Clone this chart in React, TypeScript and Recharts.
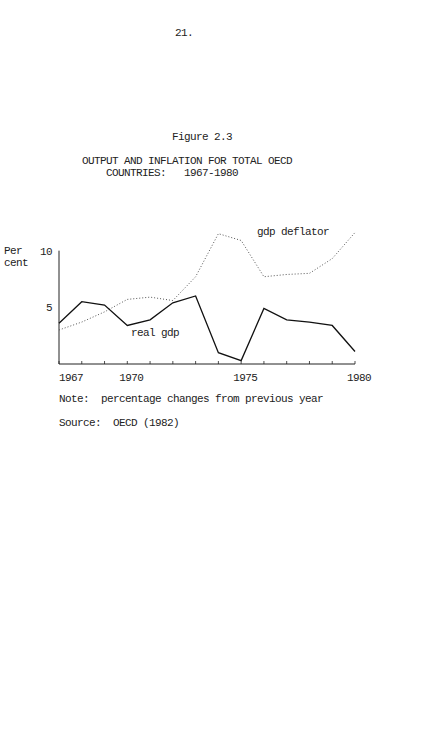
import { LineChart, Line, XAxis, YAxis, ReferenceLine } from "recharts";

const years = [1967, 1968, 1969, 1970, 1971, 1972, 1973, 1974, 1975, 1976, 1977, 1978, 1979, 1980];
const realGdp = [3.6, 5.5, 5.2, 3.4, 3.9, 5.4, 6.0, 1.0, 0.3, 4.9, 3.9, 3.7, 3.4, 1.1];
const deflator = [3.0, 3.7, 4.6, 5.7, 5.9, 5.6, 7.7, 11.5, 10.9, 7.7, 7.9, 8.0, 9.3, 11.6];
const yearLabels = [1967, 1970, 1975, 1980];
const yTicks = [5, 10];

const FONT = '"Liberation Mono", "DejaVu Sans Mono", monospace';
const INK = "#222";

const data = years.map((year, i) => ({ year, gdp: realGdp[i], defl: deflator[i] }));

function XTick(props: any) {
  const { x, y, payload } = props;
  const v = payload.value;
  const labelled = yearLabels.includes(v);
  return (
    <g>
      <line x1={x} x2={x} y1={y} y2={y - 3} stroke={INK} strokeWidth={0.8} />
      {labelled && (
        <text
          x={v === 1967 ? x : x + 4}
          y={y + 17}
          textAnchor={v === 1967 ? "start" : "middle"}
          fontFamily={FONT}
          fontSize={11}
          letterSpacing={-0.6}
          fill={INK}
        >
          {v}
        </text>
      )}
    </g>
  );
}

function YTick(props: any) {
  const { y, payload } = props;
  return (
    <text x={52} y={y + 4} textAnchor="end" fontFamily={FONT} fontSize={11} letterSpacing={-0.6} fill={INK}>
      {payload.value}
    </text>
  );
}

function T({ left, top, children }: { left: number; top: number; children: string }) {
  return (
    <div
      style={{
        position: "absolute",
        left,
        top,
        fontFamily: FONT,
        fontSize: 11,
        lineHeight: "11px",
        letterSpacing: -0.6,
        color: INK,
        whiteSpace: "pre",
      }}
    >
      {children}
    </div>
  );
}

export default function App() {
  return (
    <div style={{ position: "fixed", left: 0, top: 0, width: 425, height: 744, background: "#fff" }}>
      <T left={175} top={28}>21.</T>
      <T left={172} top={132}>Figure 2.3</T>
      <T left={82} top={156}>OUTPUT AND INFLATION FOR TOTAL OECD</T>
      <T left={82} top={168}>{"    COUNTRIES:   1967-1980"}</T>

      <div style={{ position: "absolute", left: 0, top: 0 }}>
        <LineChart width={425} height={400} data={data} margin={{ top: 228, right: 70, bottom: 6, left: 0 }}>
          <XAxis
            type="number"
            dataKey="year"
            domain={[1967, 1980]}
            ticks={years}
            interval={0}
            height={30}
            tickSize={0}
            tickMargin={0}
            tickLine={false}
            axisLine={{ stroke: INK, strokeWidth: 1 }}
            tick={<XTick />}
          />
          <YAxis
            type="number"
            domain={[0, 12]}
            ticks={yTicks}
            width={59}
            axisLine={false}
            tickLine={false}
            tick={<YTick />}
          />
          <ReferenceLine
            segment={[
              { x: 1967, y: 0 },
              { x: 1967, y: 10 },
            ]}
            stroke={INK}
            strokeWidth={1}
          />
          <Line
            type="linear"
            dataKey="defl"
            stroke="#555"
            strokeWidth={1}
            strokeDasharray="1 2"
            dot={false}
            isAnimationActive={false}
          />
          <Line
            type="linear"
            dataKey="gdp"
            stroke="#111"
            strokeWidth={1.3}
            dot={false}
            isAnimationActive={false}
          />
        </LineChart>
      </div>

      <T left={4} top={246}>Per</T>
      <T left={4} top={258}>cent</T>
      <T left={257} top={227}>gdp deflator</T>
      <T left={131} top={328}>real gdp</T>

      <T left={59} top={394}>Note:  percentage changes from previous year</T>
      <T left={59} top={418}>Source:  OECD (1982)</T>
    </div>
  );
}
